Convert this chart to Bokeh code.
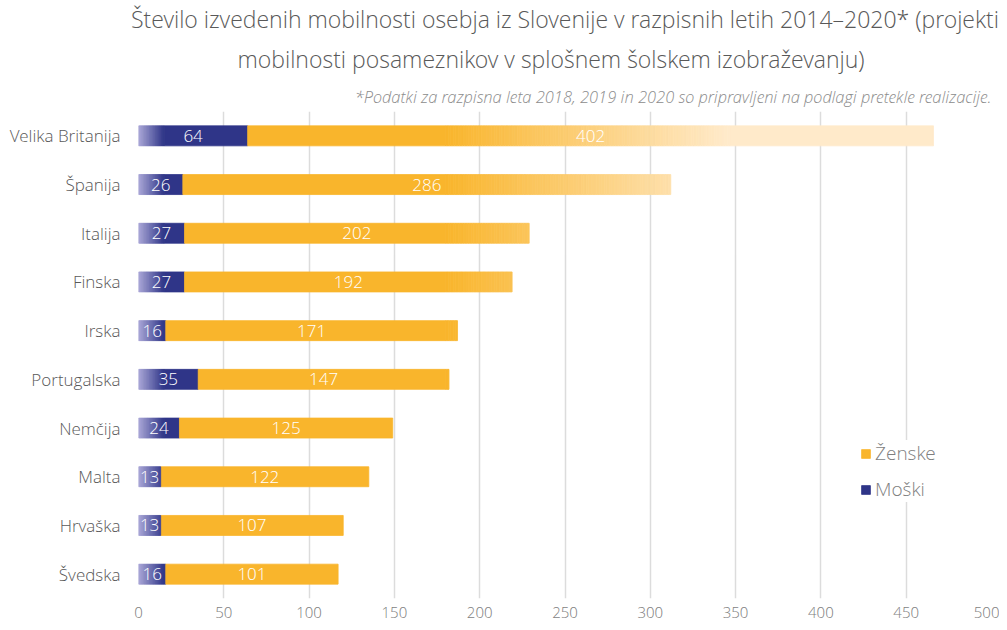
import numpy as np
from bokeh.plotting import figure
from bokeh.core.properties import value
from bokeh.models import (ColumnDataSource, Range1d, FactorRange, Title, Legend,
                          LegendItem, LabelSet, FixedTicker)
from bokeh.embed import file_html
from bokeh.resources import INLINE

# ---------------- data ----------------
countries = ["Velika Britanija", "Španija", "Italija", "Finska", "Irska",
             "Portugalska", "Nemčija", "Malta", "Hrvaška", "Švedska"]
moski = [64, 26, 27, 27, 16, 35, 24, 13, 13, 16]
zenske = [402, 286, 202, 192, 171, 147, 125, 122, 107, 101]
x_ticks = [0, 50, 100, 150, 200, 250, 300, 350, 400, 450, 500]

title_1 = "Število izvedenih mobilnosti osebja iz Slovenije v razpisnih letih 2014–2020* (projekti"
title_2 = "mobilnosti posameznikov v splošnem šolskem izobraževanju)"
note = "*Podatki za razpisna leta 2018, 2019 in 2020 so pripravljeni na podlagi pretekle realizacije."

# ---------------- style ----------------
FONT = "'Open Sans Light', 'Open Sans'"
NAVY = "#2F3588"
LAV = "#ACA9D9"
ORANGE = "#F9B52C"
PALE = "#FFEACA"
MG_END = 15.0          # navy gradient extent (data units)
FADE_START, FADE_END = 180.0, 345.0

def hex2rgb(h):
    h = h.lstrip("#")
    return [int(h[i:i + 2], 16) for i in (0, 2, 4)]

def lerp(c1, c2, t):
    a, b = hex2rgb(c1), hex2rgb(c2)
    t = max(0.0, min(1.0, t))
    return "#%02x%02x%02x" % tuple(int(round(a[i] + (b[i] - a[i]) * t)) for i in range(3))

totals = [m + f for m, f in zip(moski, zenske)]

W, HT = 999, 622
BL, BR, BT, BB = 138, 8, 104, 24
p = figure(width=W, height=HT, output_backend="svg", toolbar_location=None,
           y_range=FactorRange(factors=countries[::-1]),
           x_range=Range1d(0, 500),
           min_border_left=BL, min_border_right=BR, min_border_bottom=BB,
           min_border_top=BT)
p.outline_line_color = None
p.background_fill_color = "white"

H = 0.41
LW = 0.8

# --- solid parts (also used for the legend) ---
ny, nl, nr = [], [], []
oy, ol, orr = [], [], []
for c, m, tot in zip(countries, moski, totals):
    if m > MG_END:
        ny.append(c); nl.append(MG_END); nr.append(m)
    oy.append(c); ol.append(m); orr.append(min(tot, FADE_START))
r_m = p.hbar(y=ny, left=nl, right=nr, height=H, fill_color=NAVY,
             line_color=NAVY, line_width=LW)
r_f = p.hbar(y=oy, left=ol, right=orr, height=H, fill_color=ORANGE,
             line_color=ORANGE, line_width=LW)

# --- gradient slices computed from the data values ---
gy, gl, gr, gc = [], [], [], []
for c, m, tot in zip(countries, moski, totals):
    step = 0.5
    a = 0.0
    while a < min(m, MG_END) - 1e-9:
        b = min(a + step, m, MG_END)
        gy.append(c); gl.append(a); gr.append(b)
        gc.append(lerp(LAV, NAVY, (a + b) / 2 / MG_END))
        a = b
    step = 1.5
    a = FADE_START
    while a < tot - 1e-9:
        b = min(a + step, tot)
        if b > FADE_END + step:
            b = tot
        gy.append(c); gl.append(a); gr.append(b)
        gc.append(lerp(ORANGE, PALE, ((a + min(b, a + step)) / 2 - FADE_START) / (FADE_END - FADE_START)))
        a = b
gsrc = ColumnDataSource(dict(y=gy, left=gl, right=gr, color=gc))
p.hbar(y="y", left="left", right="right", height=H, source=gsrc,
       fill_color="color", line_color="color", line_width=LW)

# --- value labels ---
src = ColumnDataSource(dict(country=countries,
                            m_lab=[m / 2 for m in moski],
                            f_lab=[m + f / 2 for m, f in zip(moski, zenske)],
                            m_txt=[str(v) for v in moski],
                            f_txt=[str(v) for v in zenske]))
for xcol, tcol in (("m_lab", "m_txt"), ("f_lab", "f_txt")):
    p.add_layout(LabelSet(x=xcol, y="country", text=tcol, source=src,
                          text_align="center", text_baseline="middle",
                          text_color="white", text_font_size="17px",
                          text_font=value(FONT)))

# axes
p.xaxis.ticker = FixedTicker(ticks=x_ticks)
for ax in (p.xaxis[0], p.yaxis[0]):
    ax.axis_line_color = None
    ax.major_tick_line_color = None
    ax.minor_tick_line_color = None
    ax.major_label_text_font = FONT
p.xaxis.major_label_text_font_size = "15px"
p.yaxis.major_label_text_font_size = "17px"
p.xaxis.major_label_text_color = "#7F7F7F"
p.yaxis.major_label_text_color = "#595959"
p.xaxis.major_label_standoff = 2
p.yaxis.major_label_standoff = 12
p.xgrid.grid_line_color = "#DCDCDC"
p.xgrid.grid_line_width = 1.5
p.ygrid.grid_line_color = None

# legend
legend = Legend(items=[LegendItem(label="Ženske", renderers=[r_f]),
                       LegendItem(label="Moški", renderers=[r_m])],
                location=(722, 96), padding=40, spacing=10,
                glyph_width=11, glyph_height=11, label_height=21,
                label_standoff=4, label_text_font=FONT,
                label_text_font_size="19px", label_text_color="#7F7F7F",
                border_line_color=None, background_fill_color="white",
                background_fill_alpha=1.0)
p.add_layout(legend)

# titles (first added is closest to the frame)
p.add_layout(Title(text=note, align="right", text_font=FONT, text_font_style="italic",
                   text_font_size="16.5px", text_color="#8C8C8C", standoff=7), "above")
p.add_layout(Title(text=title_2, align="left", text_font=FONT, text_font_style="normal",
                   text_font_size="23px", text_color="#595959", offset=99, standoff=10), "above")
p.add_layout(Title(text=title_1, align="center", text_font=FONT, text_font_style="normal",
                   text_font_size="23px", text_color="#595959", standoff=1), "above")

open("out.html", "w").write(file_html(p, INLINE))
